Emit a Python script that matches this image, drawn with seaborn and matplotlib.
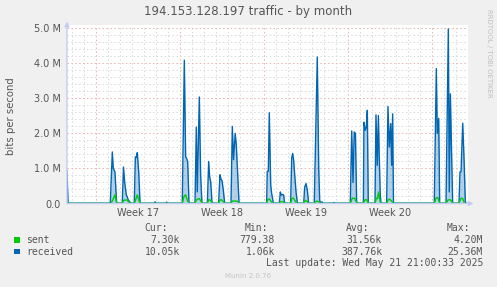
import matplotlib
matplotlib.use("Agg")
import matplotlib.pyplot as plt
import seaborn as sns
import pandas as pd
from matplotlib.patches import Rectangle

# ---------------- data (days since Mon 2025-04-21 00:00, Mbit/s) ----------------
received_day = [-2.42, -2.33,
                1.19, 1.36, 1.44, 1.58, 1.72,
                2.19, 2.29, 2.39, 2.53, 2.60, 2.69, 2.83, 2.92,
                3.19, 3.28, 3.36, 3.44, 3.56, 3.67,
                4.88, 4.92, 4.96,
                5.85, 5.89, 5.93,
                7.19, 7.36, 7.47, 7.56, 7.64, 7.75,
                8.25, 8.36, 8.44, 8.61, 8.72, 8.83,
                9.28, 9.39, 9.47, 9.56, 9.67,
                10.22, 10.33, 10.42, 10.50, 10.61, 10.72,
                11.25, 11.36, 11.46, 11.60, 11.69, 11.81, 11.92,
                14.22, 14.27, 14.36, 14.44, 14.56, 14.64, 14.78,
                15.28, 15.36, 15.44, 15.56, 15.64, 15.72,
                16.22, 16.31, 16.39, 16.47, 16.56, 16.67, 16.78,
                17.31, 17.39, 17.50, 17.61, 17.72,
                18.19, 18.44, 18.56, 18.64, 18.71,
                18.79, 18.83, 18.87,
                19.79, 19.83, 19.87,
                21.19, 21.31, 21.42, 21.52, 21.62, 21.72, 21.81,
                22.28, 22.33, 22.44, 22.53, 22.61, 22.69,
                23.25, 23.33, 23.44, 23.53, 23.61, 23.69, 23.75,
                24.22, 24.33, 24.44, 24.56, 24.64, 24.72, 24.79,
                28.19, 28.36, 28.44, 28.56, 28.64,
                29.17, 29.36, 29.44, 29.53, 29.64, 29.72,
                30.25, 30.33, 30.42, 30.56, 30.67, 30.78,
                30.875]
received_mbps = [0.95, 0.01,
                 0.01, 1.47, 1.00, 0.90, 0.01,
                 0.01, 1.04, 0.60, 0.24, 0.19, 0.10, 0.04, 0.01,
                 0.01, 1.33, 1.31, 1.45, 0.90, 0.01,
                 0.01, 0.05, 0.01,
                 0.01, 0.04, 0.01,
                 0.01, 4.09, 1.33, 1.28, 1.18, 0.01,
                 0.01, 2.18, 0.33, 3.04, 0.80, 0.01,
                 0.01, 1.20, 0.76, 0.61, 0.01,
                 0.01, 0.82, 0.69, 0.66, 0.38, 0.01,
                 0.01, 2.20, 1.25, 2.00, 1.68, 0.83, 0.01,
                 0.01, 0.92, 0.92, 2.59, 0.52, 0.28, 0.01,
                 0.01, 0.33, 0.24, 0.26, 0.24, 0.01,
                 0.01, 1.30, 1.43, 1.24, 0.81, 0.33, 0.01,
                 0.01, 0.47, 0.57, 0.38, 0.01,
                 0.01, 4.18, 1.00, 0.10, 0.01,
                 0.01, 0.05, 0.01,
                 0.01, 0.03, 0.01,
                 0.01, 2.07, 0.60, 2.04, 2.00, 0.05, 0.01,
                 0.01, 2.32, 2.09, 2.18, 2.66, 0.01,
                 0.01, 2.53, 1.09, 2.51, 1.28, 0.24, 0.01,
                 0.01, 2.77, 1.61, 2.28, 1.09, 2.56, 0.01,
                 0.01, 3.85, 2.00, 2.43, 0.01,
                 0.01, 4.98, 0.33, 3.13, 1.24, 0.01,
                 0.01, 0.90, 0.90, 2.29, 1.28, 0.01,
                 0.01]

sent_day = [-2.42, -2.33,
            1.25, 1.40, 1.58, 1.72,
            2.20, 2.30, 2.45, 2.60, 2.70, 2.85,
            3.20, 3.30, 3.44, 3.58, 3.67,
            7.20, 7.33, 7.47, 7.60, 7.75,
            8.25, 8.36, 8.50, 8.62, 8.72, 8.83,
            9.28, 9.40, 9.50, 9.60, 9.67,
            10.22, 10.33, 10.45, 10.60, 10.72,
            11.25, 11.36, 11.60, 11.80, 11.92,
            14.22, 14.33, 14.45, 14.60, 14.75,
            15.28, 15.40, 15.60, 15.72,
            16.22, 16.33, 16.47, 16.62, 16.75,
            17.30, 17.45, 17.60, 17.72,
            18.20, 18.40, 18.55, 18.70,
            21.20, 21.35, 21.55, 21.75,
            22.28, 22.40, 22.55, 22.68,
            23.25, 23.36, 23.45, 23.55, 23.62, 23.72,
            24.22, 24.35, 24.50, 24.65, 24.78,
            28.20, 28.33, 28.50, 28.64,
            29.17, 29.33, 29.50, 29.60, 29.72,
            30.25, 30.40, 30.55, 30.70,
            30.875]
sent_mbps = [0.05, 0.003,
             0.003, 0.10, 0.25, 0.003,
             0.003, 0.09, 0.10, 0.10, 0.05, 0.003,
             0.003, 0.10, 0.25, 0.08, 0.003,
             0.003, 0.20, 0.25, 0.10, 0.003,
             0.003, 0.10, 0.13, 0.14, 0.08, 0.003,
             0.003, 0.11, 0.10, 0.06, 0.003,
             0.003, 0.10, 0.11, 0.05, 0.003,
             0.003, 0.07, 0.07, 0.06, 0.003,
             0.003, 0.12, 0.13, 0.05, 0.003,
             0.003, 0.05, 0.05, 0.003,
             0.003, 0.15, 0.15, 0.05, 0.003,
             0.003, 0.09, 0.05, 0.003,
             0.003, 0.07, 0.05, 0.003,
             0.003, 0.15, 0.15, 0.003,
             0.003, 0.10, 0.11, 0.003,
             0.003, 0.15, 0.14, 0.33, 0.15, 0.003,
             0.003, 0.11, 0.12, 0.06, 0.003,
             0.003, 0.16, 0.16, 0.003,
             0.003, 0.10, 0.11, 0.08, 0.003,
             0.003, 0.14, 0.15, 0.003,
             0.007]

week_starts = [0, 7, 14, 21, 28]
week_centers = [3.5, 10.5, 17.5, 24.5]
week_labels = ["Week 17", "Week 18", "Week 19", "Week 20"]
y_major = [0, 1, 2, 3, 4, 5]
y_major_labels = ["0.0", "1.0 M", "2.0 M", "3.0 M", "4.0 M", "5.0 M"]

series_names = ["sent", "received"]
series_colors = ["#00cc00", "#0066b3"]
stat_headers = ["Cur:", "Min:", "Avg:", "Max:"]
stat_values = [["7.30k", "779.38", "31.56k", "4.20M"],
               ["10.05k", "1.06k", "387.76k", "25.36M"]]
title = "194.153.128.197 traffic - by month"
last_update = "Last update: Wed May 21 21:00:33 2025"

# ---------------- figure ----------------
sns.set_theme(style="white")
plt.rcParams["font.family"] = ["DejaVu Sans"]
TXT = "#555555"

W, H = 497, 287
fig = plt.figure(figsize=(W / 100, H / 100), dpi=100, facecolor="#f0f0f0")


def box(x0, y0, x1, y1):
    return [x0 / W, 1 - y1 / H, (x1 - x0) / W, (y1 - y0) / H]


ax = fig.add_axes(box(67, 25, 468, 203.5))
ax.set_facecolor("white")
ax.set_xlim(-29 / 12, 31.0)
ax.set_ylim(0, 5.0 * 178.5 / 175.2)
for s in ax.spines.values():
    s.set_visible(False)

# grid
grey = "#d9d9d9"
red = "#eab0b0"
for d in range(-2, 32):
    ax.axvline(d, color=red if d in week_starts else grey,
               ls=(0, (1.5, 2.5)), lw=0.7, zorder=0)
for i in range(0, 26):
    v = i * 0.2
    ax.axhline(v, color=red if i % 5 == 0 else grey,
               ls=(0, (1.5, 2.5)), lw=0.7, zorder=0)

df_r = pd.DataFrame({"day": received_day, "v": received_mbps})
df_s = pd.DataFrame({"day": sent_day, "v": sent_mbps})
ax.fill_between(df_r["day"], df_r["v"], color="#0066b3", alpha=0.3, lw=0, zorder=1)
sns.lineplot(data=df_r, x="day", y="v", ax=ax, color="#0066b3", lw=1.0,
             sort=False, estimator=None, legend=False, zorder=2)
sns.lineplot(data=df_s, x="day", y="v", ax=ax, color="#00cc00", lw=1.0,
             sort=False, estimator=None, legend=False, zorder=3)
ax.set_xlabel("")
ax.set_ylabel("")

# axes with arrows
axis_c = "#c5ccf4"
ax.annotate("", xy=(1.014, 0), xytext=(0, 0), xycoords="axes fraction",
            arrowprops=dict(arrowstyle="-|>", color=axis_c, lw=1.0,
                            mutation_scale=7, shrinkA=0, shrinkB=0),
            annotation_clip=False, zorder=5)
ax.annotate("", xy=(0, 1.02), xytext=(0, 0), xycoords="axes fraction",
            arrowprops=dict(arrowstyle="-|>", color=axis_c, lw=1.0,
                            mutation_scale=7, shrinkA=0, shrinkB=0),
            annotation_clip=False, zorder=5)

ax.set_yticks(y_major)
ax.set_yticklabels(y_major_labels)
ax.set_xticks(week_centers)
ax.set_xticklabels(week_labels)
ax.tick_params(axis="y", length=0, pad=4.5, labelsize=7, labelcolor=TXT)
ax.tick_params(axis="x", length=0, pad=3.5, labelsize=7, labelcolor=TXT)

# texts
fig.text(248 / W, 1 - 12 / H, title, ha="center", va="center",
         fontsize=8.5, color=TXT)
fig.text(11 / W, 1 - 116 / H, "bits per second", rotation=90,
         ha="center", va="center", fontsize=7.3, color=TXT)
fig.text(489 / W, 1 - 53 / H, "RRDTOOL / TOBI OETIKER", rotation=270,
         ha="center", va="center", fontsize=5, color="#c0c0c0")

mono = "DejaVu Sans Mono"
hdr_right = [168, 268.5, 369.5, 470]
val_right = [180, 275, 382, 483]
for h, xr in zip(stat_headers, hdr_right):
    fig.text(xr / W, 1 - 228 / H, h, ha="right", va="center",
             family=mono, fontsize=7, color=TXT)
row_y = [240, 251.7]
for name, col, vals, yy in zip(series_names, series_colors, stat_values, row_y):
    fig.patches.append(Rectangle((14 / W, 1 - (yy + 2.7) / H), 6 / W, 5.5 / H,
                                 transform=fig.transFigure, color=col,
                                 lw=0))
    fig.text(26.5 / W, 1 - yy / H, name, ha="left", va="center",
             family=mono, fontsize=7, color=TXT)
    for v, xr in zip(vals, val_right):
        fig.text(xr / W, 1 - yy / H, v, ha="right", va="center",
                 family=mono, fontsize=7, color=TXT)
fig.text(483 / W, 1 - 263.5 / H, last_update, ha="right", va="center",
         family=mono, fontsize=7, color=TXT)
fig.text(248 / W, 1 - 276 / H, "Munin 2.0.76", ha="center", va="center",
         fontsize=5, color="#c4c4c4")

fig.savefig("out.png", dpi=100, facecolor=fig.get_facecolor())
